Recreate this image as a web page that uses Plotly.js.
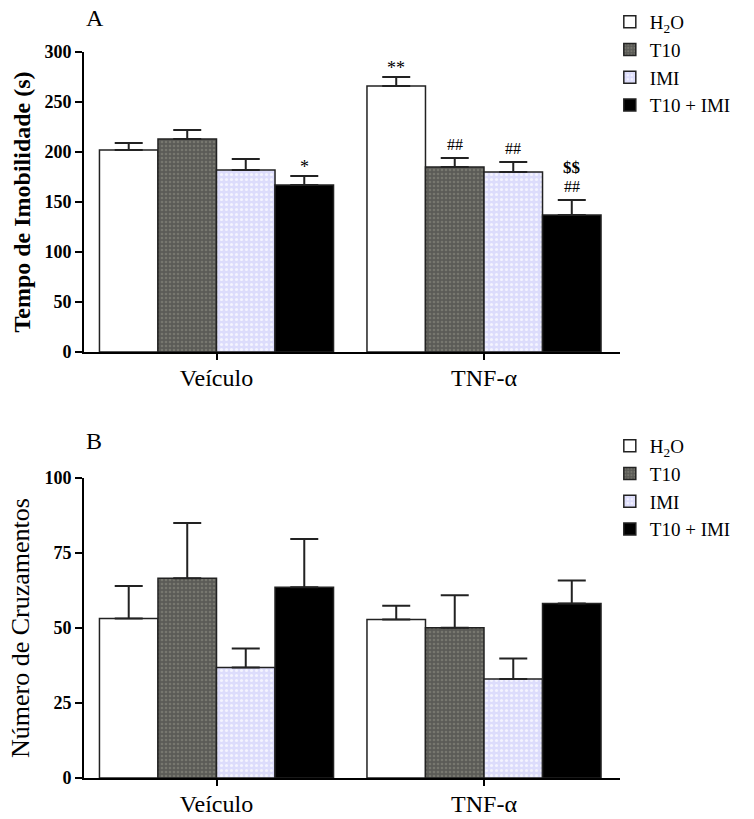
<!DOCTYPE html>
<html>
<head>
<meta charset="utf-8">
<script src="https://cdn.plot.ly/plotly-3.0.1.min.js"></script>
<style>html,body{margin:0;padding:0;background:#fff;}#chart{width:754px;height:819px;}</style>
</head>
<body>
<div id="chart"></div>
<script>
// ---- data ----
const groups = ['Veículo', 'TNF-α'];
const seriesNames = ['H<sub>2</sub>O', 'T10', 'IMI', 'T10 + IMI'];

// Panel A: Tempo de Imobilidade (s)
const imobH2O = [202, 266];
const imobT10 = [213, 185];
const imobIMI = [182, 180];
const imobT10IMI = [167, 137];
const imobH2OErr = [7, 9];
const imobT10Err = [9, 9];
const imobIMIErr = [11, 10];
const imobT10IMIErr = [9, 15];
// significance marks (first line above error bar, second line above that)
const marksH2O = ['', '**'];
const marksT10 = ['', '##'];
const marksIMI = ['', '##'];
const marksT10IMI = ['*', '##'];
const marks2T10IMI = ['', '&#36;&#36;'];

// Panel B: Número de Cruzamentos
const cruzH2O = [53.2, 52.8];
const cruzT10 = [66.6, 50.1];
const cruzIMI = [36.8, 33.0];
const cruzT10IMI = [63.6, 58.2];
const cruzH2OErr = [10.8, 4.6];
const cruzT10Err = [18.4, 10.8];
const cruzIMIErr = [6.4, 6.8];
const cruzT10IMIErr = [16.1, 7.6];

// ---- styles ----
const FONT = '"Liberation Serif"';
const styles = [
  {color: '#ffffff', pattern: null},
  {color: '#5b5b57', pattern: {shape: '.', bgcolor: '#5b5b57', fgcolor: '#77776f', size: 4, solidity: 0.35, fillmode: 'replace'}},
  {color: '#dcdcfb', pattern: {shape: '.', bgcolor: '#dcdcfb', fgcolor: '#f4f4ff', size: 5, solidity: 0.3, fillmode: 'replace'}},
  {color: '#000000', pattern: null}
];

function makeTrace(i, y, err, xa, ya, legend, showlegend) {
  const marker = {color: styles[i].color, line: {color: '#222222', width: 1.5}};
  if (styles[i].pattern) marker.pattern = styles[i].pattern;
  return {
    type: 'bar', x: groups, y: y, name: seriesNames[i],
    xaxis: xa, yaxis: ya, legend: legend, showlegend: showlegend,
    marker: marker,
    error_y: {type: 'data', symmetric: false, array: err, arrayminus: err.map(() => 0),
              color: '#222222', thickness: 2, width: 14},
    hoverinfo: 'skip'
  };
}

const aVals = [imobH2O, imobT10, imobIMI, imobT10IMI];
const aErrs = [imobH2OErr, imobT10Err, imobIMIErr, imobT10IMIErr];
const bVals = [cruzH2O, cruzT10, cruzIMI, cruzT10IMI];
const bErrs = [cruzH2OErr, cruzT10Err, cruzIMIErr, cruzT10IMIErr];

const traces = [];
for (let i = 0; i < 4; i++) traces.push(makeTrace(i, aVals[i], aErrs[i], 'x', 'y', 'legend', true));
for (let i = 0; i < 4; i++) traces.push(makeTrace(i, bVals[i], bErrs[i], 'x2', 'y2', 'legend2', true));

// annotation positions derived from bar layout
const bargap = 0.125;
const barW = (1 - bargap) / 4;
const offsets = [0, 1, 2, 3].map(k => -(1 - bargap) / 2 + barW * (k + 0.5));
const marks1 = [marksH2O, marksT10, marksIMI, marksT10IMI];
const marks2 = [['', ''], ['', ''], ['', ''], marks2T10IMI];

const annotations = [];
for (let s = 0; s < 4; s++) {
  for (let g = 0; g < 2; g++) {
    const top = aVals[s][g] + aErrs[s][g];
    if (marks1[s][g]) {
      const isStar = marks1[s][g].indexOf('*') >= 0;
      annotations.push({xref: 'x', yref: 'y', x: g + offsets[s], y: top + (isStar ? 9 : 13),
        text: marks1[s][g], showarrow: false, yanchor: 'middle',
        font: {family: FONT, size: isStar ? 18 : 16, color: '#000'}});
    }
    if (marks2[s][g]) {
      annotations.push({xref: 'x', yref: 'y', x: g + offsets[s], y: top + 32,
        text: marks2[s][g], showarrow: false, yanchor: 'middle',
        font: {family: FONT, size: 17, color: '#000', weight: 'bold'}});
    }
  }
}
annotations.push({xref: 'paper', yref: 'paper', x: 0.0, y: 1.047, xanchor: 'left', yanchor: 'middle',
  text: 'A', showarrow: false, font: {family: FONT, size: 24, color: '#000'}});
annotations.push({xref: 'paper', yref: 'paper', x: 0.0, y: 0.4642, xanchor: 'left', yanchor: 'middle',
  text: 'B', showarrow: false, font: {family: FONT, size: 24, color: '#000'}});

const xRange = [-0.4953, 1.5084];
function xAxis(anchor) {
  return {anchor: anchor, domain: [0, 1], type: 'category', range: xRange,
    showline: true, linecolor: '#000', linewidth: 2, ticks: 'outside', ticklen: 6, tickwidth: 2,
    tickcolor: '#000', showgrid: false, zeroline: false, fixedrange: true, ticklabelstandoff: -3,
    tickfont: {family: FONT, size: 24, color: '#000'}, automargin: false};
}
function yAxis(anchor, domain, range, dtick, title, bold) {
  return {anchor: anchor, domain: domain, range: range, dtick: dtick, tick0: 0,
    showline: true, linecolor: '#000', linewidth: 2, ticks: 'outside', ticklen: 7, tickwidth: 2,
    tickcolor: '#000', showgrid: false, zeroline: false, fixedrange: true, automargin: false,
    tickfont: {family: FONT, size: 18, color: '#000', weight: 'bold'},
    title: {text: title, standoff: 7, font: {family: FONT, size: bold ? 24 : 26, color: '#000', weight: bold ? 'bold' : 'normal'}}};
}

const legendBase = {xanchor: 'left', yanchor: 'top', x: 0.981, bgcolor: 'rgba(0,0,0,0)',
  font: {family: FONT, size: 19, color: '#000'}, tracegroupgap: 0, itemclick: false, itemdoubleclick: false};

const layout = {
  width: 754, height: 819,
  margin: {l: 84, r: 134, t: 52, b: 41, autoexpand: false},
  paper_bgcolor: '#fff', plot_bgcolor: '#fff',
  barmode: 'group', bargap: bargap, bargroupgap: 0,
  font: {family: FONT, color: '#000'},
  xaxis: xAxis('y'),
  xaxis2: xAxis('y2'),
  yaxis: yAxis('x', [0.5868, 1], [0, 300], 50, 'Tempo de Imobilidade (s)', true),
  yaxis2: yAxis('x2', [0, 0.4132], [0, 100], 25, 'Número de Cruzamentos', false),
  legend: Object.assign({}, legendBase, {y: 1.0675}),
  legend2: Object.assign({}, legendBase, {y: 0.4835}),
  annotations: annotations,
  showlegend: true
};

Plotly.newPlot('chart', traces, layout, {displayModeBar: false, staticPlot: true});
</script>
</body>
</html>
